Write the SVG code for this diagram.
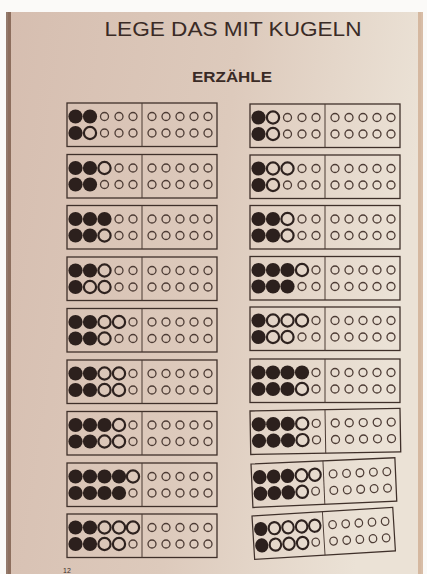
<svg xmlns="http://www.w3.org/2000/svg" xmlns:xlink="http://www.w3.org/1999/xlink" width="427" height="574" viewBox="0 0 427 574">
<style>
.frame{fill:none;stroke:#3f302a;stroke-width:1.3}
.div{stroke:#4a3a33;stroke-width:1}
.f{fill:#2c201d}
.h{fill:none;stroke:#2e221f;stroke-width:2.2}
.s{fill:none;stroke:#4d3c35;stroke-width:1.3}
.title{font-family:"Liberation Sans","DejaVu Sans",sans-serif;fill:#3a2b26}
</style>
<defs>
<linearGradient id="page" x1="0" y1="0" x2="1" y2="0.2">
<stop offset="0" stop-color="#d6beb0"/>
<stop offset="0.55" stop-color="#ddcabc"/>
<stop offset="1" stop-color="#ebe2d6"/>
</linearGradient>
<circle id="F" r="7.1" class="f"/>
<circle id="H" r="6.1" class="h"/>
<circle id="S" r="4" class="s"/>
<g id="card">
<rect x="0" y="0" width="150" height="43.5" class="frame"/>
<line x1="75" y1="0" x2="75" y2="43.5" class="div"/>
<use href="#S" x="85" y="13.5"/><use href="#S" x="99" y="13.5"/><use href="#S" x="113" y="13.5"/><use href="#S" x="127" y="13.5"/><use href="#S" x="141" y="13.5"/>
<use href="#S" x="85" y="30"/><use href="#S" x="99" y="30"/><use href="#S" x="113" y="30"/><use href="#S" x="127" y="30"/><use href="#S" x="141" y="30"/>
</g>
</defs>
<rect x="0" y="0" width="427" height="574" fill="#fbfaf8"/>
<rect x="8" y="12" width="413" height="562" fill="url(#page)"/>
<rect x="6" y="12" width="5" height="562" fill="#7a5a48" opacity="0.8"/>
<rect x="418" y="12" width="5" height="562" fill="#cfae92" opacity="0.8"/>
<text class="title" x="233" y="36" font-size="21" text-anchor="middle" textLength="257" lengthAdjust="spacingAndGlyphs">LEGE DAS MIT KUGELN</text>
<text class="title" x="232" y="82" font-size="15" font-weight="bold" text-anchor="middle" textLength="80" lengthAdjust="spacingAndGlyphs">ERZÄHLE</text>

<g id="L1" transform="translate(67,103)"><use href="#card"/>
<use href="#F" x="8.5" y="13.5"/><use href="#F" x="23" y="13.5"/><use href="#S" x="37.5" y="13.5"/><use href="#S" x="52" y="13.5"/><use href="#S" x="66" y="13.5"/>
<use href="#F" x="8.5" y="30"/><use href="#H" x="23" y="30"/><use href="#S" x="37.5" y="30"/><use href="#S" x="52" y="30"/><use href="#S" x="66" y="30"/></g>
<g id="L2" transform="translate(67,154.5)"><use href="#card"/>
<use href="#F" x="8.5" y="13.5"/><use href="#F" x="23" y="13.5"/><use href="#H" x="37.5" y="13.5"/><use href="#S" x="52" y="13.5"/><use href="#S" x="66" y="13.5"/>
<use href="#F" x="8.5" y="30"/><use href="#F" x="23" y="30"/><use href="#S" x="37.5" y="30"/><use href="#S" x="52" y="30"/><use href="#S" x="66" y="30"/></g>
<g id="L3" transform="translate(67,205.5)"><use href="#card"/>
<use href="#F" x="8.5" y="13.5"/><use href="#F" x="23" y="13.5"/><use href="#F" x="37.5" y="13.5"/><use href="#S" x="52" y="13.5"/><use href="#S" x="66" y="13.5"/>
<use href="#F" x="8.5" y="30"/><use href="#F" x="23" y="30"/><use href="#H" x="37.5" y="30"/><use href="#S" x="52" y="30"/><use href="#S" x="66" y="30"/></g>
<g id="L4" transform="translate(67,257)"><use href="#card"/>
<use href="#F" x="8.5" y="13.5"/><use href="#F" x="23" y="13.5"/><use href="#H" x="37.5" y="13.5"/><use href="#S" x="52" y="13.5"/><use href="#S" x="66" y="13.5"/>
<use href="#F" x="8.5" y="30"/><use href="#H" x="23" y="30"/><use href="#H" x="37.5" y="30"/><use href="#S" x="52" y="30"/><use href="#S" x="66" y="30"/></g>
<g id="L5" transform="translate(67,308.5)"><use href="#card"/>
<use href="#F" x="8.5" y="13.5"/><use href="#F" x="23" y="13.5"/><use href="#H" x="37.5" y="13.5"/><use href="#H" x="52" y="13.5"/><use href="#S" x="66" y="13.5"/>
<use href="#F" x="8.5" y="30"/><use href="#F" x="23" y="30"/><use href="#H" x="37.5" y="30"/><use href="#S" x="52" y="30"/><use href="#S" x="66" y="30"/></g>
<g id="L6" transform="translate(67,360)"><use href="#card"/>
<use href="#F" x="8.5" y="13.5"/><use href="#F" x="23" y="13.5"/><use href="#H" x="37.5" y="13.5"/><use href="#H" x="52" y="13.5"/><use href="#S" x="66" y="13.5"/>
<use href="#F" x="8.5" y="30"/><use href="#F" x="23" y="30"/><use href="#H" x="37.5" y="30"/><use href="#H" x="52" y="30"/><use href="#S" x="66" y="30"/></g>
<g id="L7" transform="translate(67,411.5)"><use href="#card"/>
<use href="#F" x="8.5" y="13.5"/><use href="#F" x="23" y="13.5"/><use href="#F" x="37.5" y="13.5"/><use href="#H" x="52" y="13.5"/><use href="#S" x="66" y="13.5"/>
<use href="#F" x="8.5" y="30"/><use href="#F" x="23" y="30"/><use href="#H" x="37.5" y="30"/><use href="#H" x="52" y="30"/><use href="#S" x="66" y="30"/></g>
<g id="L8" transform="translate(67,463)"><use href="#card"/>
<use href="#F" x="8.5" y="13.5"/><use href="#F" x="23" y="13.5"/><use href="#F" x="37.5" y="13.5"/><use href="#F" x="52" y="13.5"/><use href="#H" x="66" y="13.5"/>
<use href="#F" x="8.5" y="30"/><use href="#F" x="23" y="30"/><use href="#F" x="37.5" y="30"/><use href="#F" x="52" y="30"/><use href="#S" x="66" y="30"/></g>
<g id="L9" transform="translate(67,514)"><use href="#card"/>
<use href="#F" x="8.5" y="13.5"/><use href="#F" x="23" y="13.5"/><use href="#H" x="37.5" y="13.5"/><use href="#H" x="52" y="13.5"/><use href="#H" x="66" y="13.5"/>
<use href="#F" x="8.5" y="30"/><use href="#F" x="23" y="30"/><use href="#H" x="37.5" y="30"/><use href="#H" x="52" y="30"/><use href="#S" x="66" y="30"/></g>

<g id="R1" transform="translate(250,104)"><use href="#card"/>
<use href="#F" x="8.5" y="13.5"/><use href="#H" x="23" y="13.5"/><use href="#S" x="37.5" y="13.5"/><use href="#S" x="52" y="13.5"/><use href="#S" x="66" y="13.5"/>
<use href="#F" x="8.5" y="30"/><use href="#H" x="23" y="30"/><use href="#S" x="37.5" y="30"/><use href="#S" x="52" y="30"/><use href="#S" x="66" y="30"/></g>
<g id="R2" transform="translate(250,155)"><use href="#card"/>
<use href="#F" x="8.5" y="13.5"/><use href="#H" x="23" y="13.5"/><use href="#H" x="37.5" y="13.5"/><use href="#S" x="52" y="13.5"/><use href="#S" x="66" y="13.5"/>
<use href="#F" x="8.5" y="30"/><use href="#H" x="23" y="30"/><use href="#S" x="37.5" y="30"/><use href="#S" x="52" y="30"/><use href="#S" x="66" y="30"/></g>
<g id="R3" transform="translate(250,205.5)"><use href="#card"/>
<use href="#F" x="8.5" y="13.5"/><use href="#F" x="23" y="13.5"/><use href="#H" x="37.5" y="13.5"/><use href="#S" x="52" y="13.5"/><use href="#S" x="66" y="13.5"/>
<use href="#F" x="8.5" y="30"/><use href="#F" x="23" y="30"/><use href="#H" x="37.5" y="30"/><use href="#S" x="52" y="30"/><use href="#S" x="66" y="30"/></g>
<g id="R4" transform="translate(250,256.5)"><use href="#card"/>
<use href="#F" x="8.5" y="13.5"/><use href="#F" x="23" y="13.5"/><use href="#F" x="37.5" y="13.5"/><use href="#H" x="52" y="13.5"/><use href="#S" x="66" y="13.5"/>
<use href="#F" x="8.5" y="30"/><use href="#F" x="23" y="30"/><use href="#F" x="37.5" y="30"/><use href="#S" x="52" y="30"/><use href="#S" x="66" y="30"/></g>
<g id="R5" transform="translate(250,307)"><use href="#card"/>
<use href="#F" x="8.5" y="13.5"/><use href="#H" x="23" y="13.5"/><use href="#H" x="37.5" y="13.5"/><use href="#H" x="52" y="13.5"/><use href="#S" x="66" y="13.5"/>
<use href="#F" x="8.5" y="30"/><use href="#H" x="23" y="30"/><use href="#H" x="37.5" y="30"/><use href="#S" x="52" y="30"/><use href="#S" x="66" y="30"/></g>
<g id="R6" transform="translate(250,359)"><use href="#card"/>
<use href="#F" x="8.5" y="13.5"/><use href="#F" x="23" y="13.5"/><use href="#F" x="37.5" y="13.5"/><use href="#F" x="52" y="13.5"/><use href="#S" x="66" y="13.5"/>
<use href="#F" x="8.5" y="30"/><use href="#F" x="23" y="30"/><use href="#F" x="37.5" y="30"/><use href="#H" x="52" y="30"/><use href="#S" x="66" y="30"/></g>
<g id="R7" transform="translate(250,411) rotate(-1)"><use href="#card"/>
<use href="#F" x="8.5" y="13.5"/><use href="#F" x="23" y="13.5"/><use href="#F" x="37.5" y="13.5"/><use href="#H" x="52" y="13.5"/><use href="#S" x="66" y="13.5"/>
<use href="#F" x="8.5" y="30"/><use href="#F" x="23" y="30"/><use href="#F" x="37.5" y="30"/><use href="#H" x="52" y="30"/><use href="#S" x="66" y="30"/></g>
<g id="R8" transform="translate(251,464) rotate(-2.5) scale(0.96,1)"><use href="#card"/>
<use href="#F" x="8.5" y="13.5"/><use href="#F" x="23" y="13.5"/><use href="#F" x="37.5" y="13.5"/><use href="#H" x="52" y="13.5"/><use href="#H" x="66" y="13.5"/>
<use href="#F" x="8.5" y="30"/><use href="#F" x="23" y="30"/><use href="#F" x="37.5" y="30"/><use href="#H" x="52" y="30"/><use href="#S" x="66" y="30"/></g>
<g id="R9" transform="translate(252,516) rotate(-3.5) scale(0.94,1)"><use href="#card"/>
<use href="#F" x="8.5" y="13.5"/><use href="#H" x="23" y="13.5"/><use href="#H" x="37.5" y="13.5"/><use href="#H" x="52" y="13.5"/><use href="#H" x="66" y="13.5"/>
<use href="#F" x="8.5" y="30"/><use href="#H" x="23" y="30"/><use href="#H" x="37.5" y="30"/><use href="#H" x="52" y="30"/><use href="#S" x="66" y="30"/></g>

<text class="title" x="63" y="573" font-size="7" fill="#6a5448">12</text>
</svg>
